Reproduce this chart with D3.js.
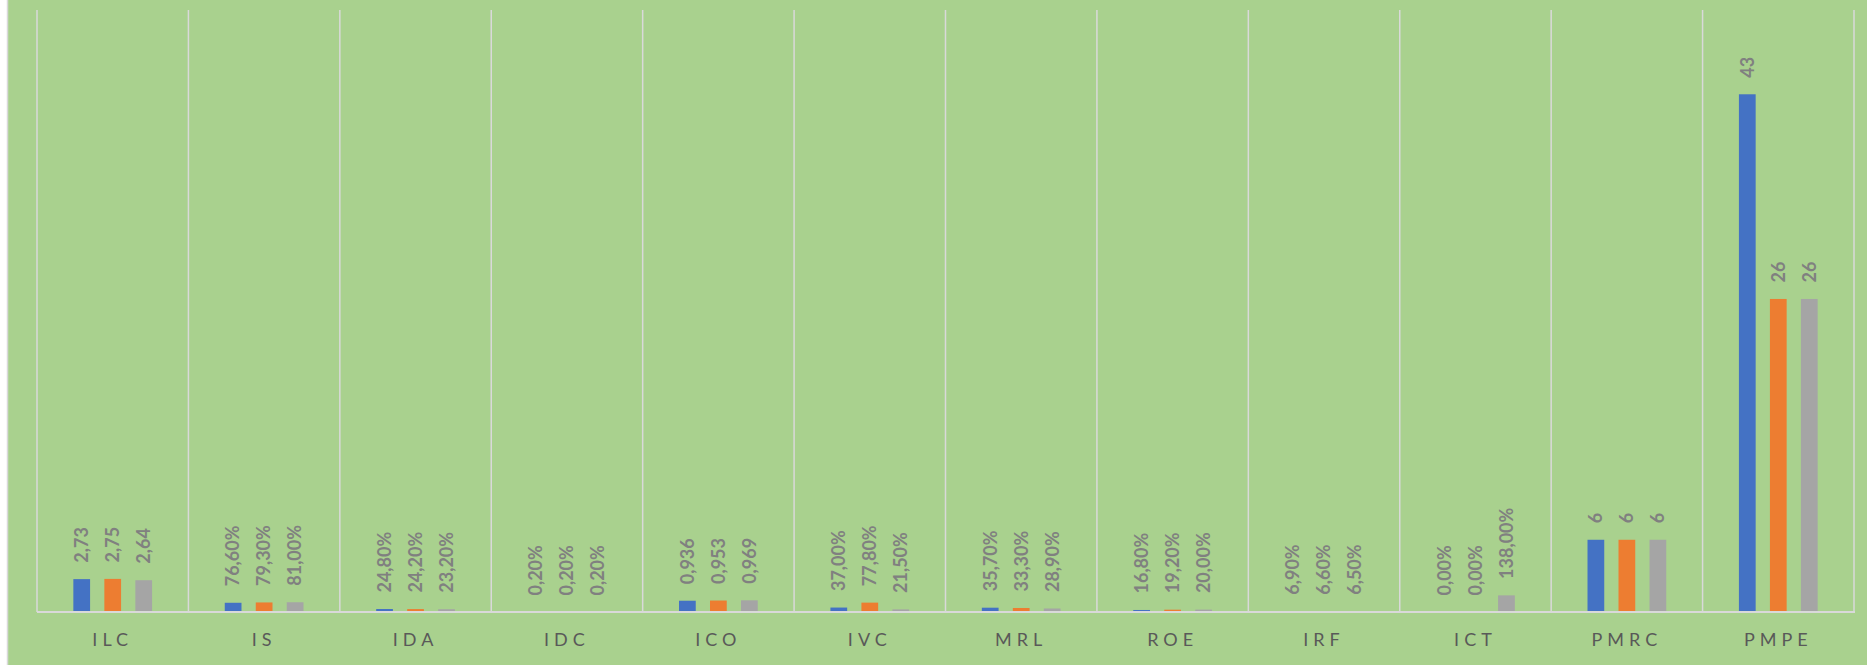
<!DOCTYPE html>
<html>
<head>
<meta charset="utf-8">
<script src="https://cdn.jsdelivr.net/npm/d3@7"></script>
<style>
  html, body { margin: 0; padding: 0; background: #ffffff; }
  svg { display: block; }
</style>
</head>
<body>
<svg id="chart" width="1867" height="665"></svg>
<script>
const categories = ["ILC", "IS", "IDA", "IDC", "ICO", "IVC", "MRL", "ROE", "IRF", "ICT", "PMRC", "PMPE"];
const seriesNames = ["Serie 1", "Serie 2", "Serie 3"];
const series1 = [2.73, 0.766, 0.248, 0.002, 0.936, 0.370, 0.357, 0.168, 0.069, 0.000, 6, 43];
const series2 = [2.75, 0.793, 0.242, 0.002, 0.953, 0.778, 0.333, 0.192, 0.066, 0.000, 6, 26];
const series3 = [2.64, 0.810, 0.232, 0.002, 0.969, 0.215, 0.289, 0.200, 0.065, 1.380, 6, 26];
const labels1 = ["2,73", "76,60%", "24,80%", "0,20%", "0,936", "37,00%", "35,70%", "16,80%", "6,90%", "0,00%", "6", "43"];
const labels2 = ["2,75", "79,30%", "24,20%", "0,20%", "0,953", "77,80%", "33,30%", "19,20%", "6,60%", "0,00%", "6", "26"];
const labels3 = ["2,64", "81,00%", "23,20%", "0,20%", "0,969", "21,50%", "28,90%", "20,00%", "6,50%", "138,00%", "6", "26"];
const colors = ["#4472C4", "#ED7D31", "#A5A5A5"];
const yDomain = [0, 50];

const svg = d3.select("#chart");
const W = 1867, H = 665;
const plot = { left: 37, right: 1854, top: 10, bottom: 612 };

// chart area background
svg.append("rect").attr("x", 8).attr("y", 0).attr("width", W - 8).attr("height", H).attr("fill", "#A9D18E");
svg.append("line").attr("x1", 7.5).attr("x2", 7.5).attr("y1", 0).attr("y2", H)
  .attr("stroke", "#D9D9D9").attr("stroke-width", 1.5);

const x0 = d3.scaleBand().domain(categories).range([plot.left, plot.right])
  .paddingInner(0.48).paddingOuter(0.24);
const x1 = d3.scaleBand().domain(d3.range(3)).range([0, x0.bandwidth()])
  .paddingInner(0.46).paddingOuter(0);
const y = d3.scaleLinear().domain(yDomain).range([plot.bottom, plot.top]);

// vertical gridlines at category boundaries
const step = x0.step();
const bounds = d3.range(categories.length + 1).map(i => plot.left + i * (plot.right - plot.left) / categories.length);
svg.append("g").selectAll("line").data(bounds).join("line")
  .attr("x1", d => d).attr("x2", d => d)
  .attr("y1", plot.top).attr("y2", plot.bottom)
  .attr("stroke", "#D9D9D9").attr("stroke-width", 1.5);

const data = [series1, series2, series3];
const labs = [labels1, labels2, labels3];

const g = svg.append("g");
data.forEach((vals, s) => {
  g.append("g").selectAll("rect").data(vals).join("rect")
    .attr("x", (d, i) => x0(categories[i]) + x1(s))
    .attr("y", d => y(d))
    .attr("width", x1.bandwidth())
    .attr("height", d => Math.max(0, plot.bottom - y(d)))
    .attr("fill", colors[s]);
});

// axis line
svg.append("line").attr("x1", plot.left).attr("x2", plot.right + 1)
  .attr("y1", plot.bottom).attr("y2", plot.bottom)
  .attr("stroke", "#D9D9D9").attr("stroke-width", 2);

// data labels
data.forEach((vals, s) => {
  g.append("g").selectAll("text").data(vals).join("text")
    .attr("transform", (d, i) => {
      const cx = x0(categories[i]) + x1(s) + x1.bandwidth() / 2;
      const cy = y(d) - 16.5;
      return `translate(${cx},${cy}) rotate(-90)`;
    })
    .attr("dy", "0.35em")
    .attr("text-anchor", "start")
    .attr("font-family", "Lato, 'Open Sans', sans-serif")
    .attr("font-weight", "bold")
    .attr("font-size", 18)
    .attr("fill", "#808080")
    .text((d, i) => labs[s][i]);
});

// category axis labels
const xAxis = d3.axisBottom(x0).tickSize(0).tickPadding(0);
const ax = svg.append("g").attr("transform", `translate(0,${plot.bottom})`).call(xAxis);
ax.select(".domain").remove();
ax.selectAll("text")
  .attr("y", 28)
  .attr("dy", "0.35em")
  .attr("font-family", "Lato, 'Open Sans', sans-serif")
  .attr("font-size", 18)
  .attr("letter-spacing", "5px")
  .attr("fill", "#595959");
</script>
</body>
</html>
